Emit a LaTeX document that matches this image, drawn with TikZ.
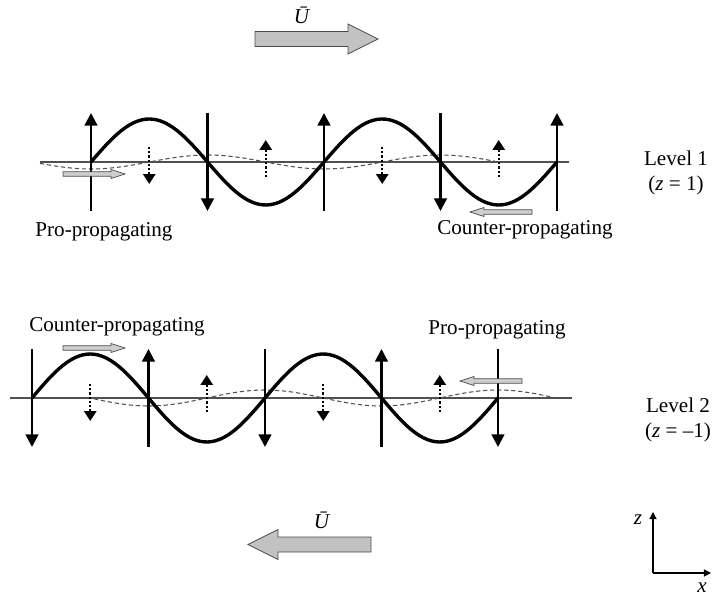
\documentclass[tikz,border=0pt]{standalone}
\usepackage{fontspec}
\setmainfont{Liberation Serif}
\usepackage{tikz}
\usetikzlibrary{arrows.meta}
\definecolor{flowfill}{HTML}{C2C2C2}
\definecolor{flowline}{HTML}{4A4A4A}
\definecolor{axisgray}{HTML}{505050}

\begin{document}
\begin{tikzpicture}[x=0.025cm,y=-0.025cm,
  font=\fontsize{15}{18}\selectfont,
  wave/.style={line width=2.4pt,line join=round},
  trace/.style={axisgray,line width=0.75pt,dash pattern=on 3pt off 2pt},
  baseln/.style={axisgray,line width=0.8pt},
  vec/.style={line width=1.7pt,-{Triangle[length=9pt,width=9pt]}},
  dotvec/.style={line width=1.7pt,dash pattern=on 1.5pt off 1.5pt,
                 -{Triangle[length=7pt,width=8.5pt]}},
  axvec/.style={line width=0.8pt,-{Triangle[length=5pt,width=5pt]}},
  lbl/.style={inner sep=1pt},
  meanflow/.pic={\filldraw[fill=flowfill,draw=flowline,line width=0.6pt]
    (0,-7.5) -- (93,-7.5) -- (93,-15) -- (123,0) -- (93,15) -- (93,7.5)
    -- (0,7.5) -- cycle;},
  drift/.pic={\filldraw[fill=flowfill!80,draw=flowline,line width=0.5pt]
    (0,-2.2) -- (48,-2.2) -- (48,-4.5) -- (62,0) -- (48,4.5) -- (48,2.2)
    -- (0,2.2) -- cycle;},
]
\useasboundingbox (0,0) rectangle (712,597);

% ---------- mean flow, top ----------
\node[lbl] (ubartop) at (302,15) {\textit{\=U}};
\pic at (255,39) {meanflow};

% ---------- level 1 ----------
\draw[baseln] (40,162) -- (569,162);
\draw[trace] plot[domain=40:500,samples=90]
  (\x,{162+7*cos((\x-91)/116.5*180)});
\draw[wave] plot[domain=91:557,samples=120]
  (\x,{162-43*sin((\x-91)/116.5*180)});
\foreach \k/\s in {0/1,1/-1,2/1,3/-1,4/1}
  \draw[vec] ({91+116.5*\k},{162+49*\s}) -- ({91+116.5*\k},{162-49*\s});
\foreach \k/\s in {0/1,1/-1,2/1,3/-1}
  \draw[dotvec] ({149.25+116.5*\k},{162-15*\s}) -- ({149.25+116.5*\k},{162+22*\s});
\pic at (63,174) {drift};
\pic[xscale=-1] at (532,212) {drift};
\node[lbl] (pro1) at (104,232) {Pro-propagating};
\node[lbl] (counter1) at (525,230) {Counter-propagating};
\node[lbl,align=center] (lev1) at (676,173) {Level 1\\(\textit{z} = 1)};

% ---------- level 2 ----------
\draw[baseln] (10,398) -- (572,398);
\draw[trace] plot[domain=94:555,samples=90]
  (\x,{398-8*cos((\x-32)/116.5*180)});
\draw[wave] plot[domain=32:498,samples=120]
  (\x,{398-44*sin((\x-32)/116.5*180)});
\foreach \k/\s in {0/-1,1/1,2/-1,3/1,4/-1}
  \draw[vec] ({32+116.5*\k},{398+49*\s}) -- ({32+116.5*\k},{398-49*\s});
\foreach \k/\s in {0/1,1/-1,2/1,3/-1}
  \draw[dotvec] ({90.25+116.5*\k},{398-14*\s}) -- ({90.25+116.5*\k},{398+23*\s});
\pic at (63,348) {drift};
\pic[xscale=-1] at (522,381) {drift};
\node[lbl] (counter2) at (117,327) {Counter-propagating};
\node[lbl] (pro2) at (497,330) {Pro-propagating};
\node[lbl,align=center] (lev2) at (678,420) {Level 2\\(\textit{z} = –1)};

% ---------- mean flow, bottom ----------
\node[lbl] (ubarbot) at (322,520) {\textit{\=U}};
\pic[xscale=-1] at (371,544.5) {meanflow};

% ---------- axes ----------
\coordinate (org) at (653,573);
\coordinate (ztip) at (653,512);
\coordinate (xtip) at (711,573);
\draw[axvec] (org) -- (ztip);
\draw[axvec] (org) -- (xtip);
\node[lbl] (zlab) at (638,520) {\textit{z}};
\node[lbl] (xlab) at (702,588) {\textit{x}};
\end{tikzpicture}
\end{document}
